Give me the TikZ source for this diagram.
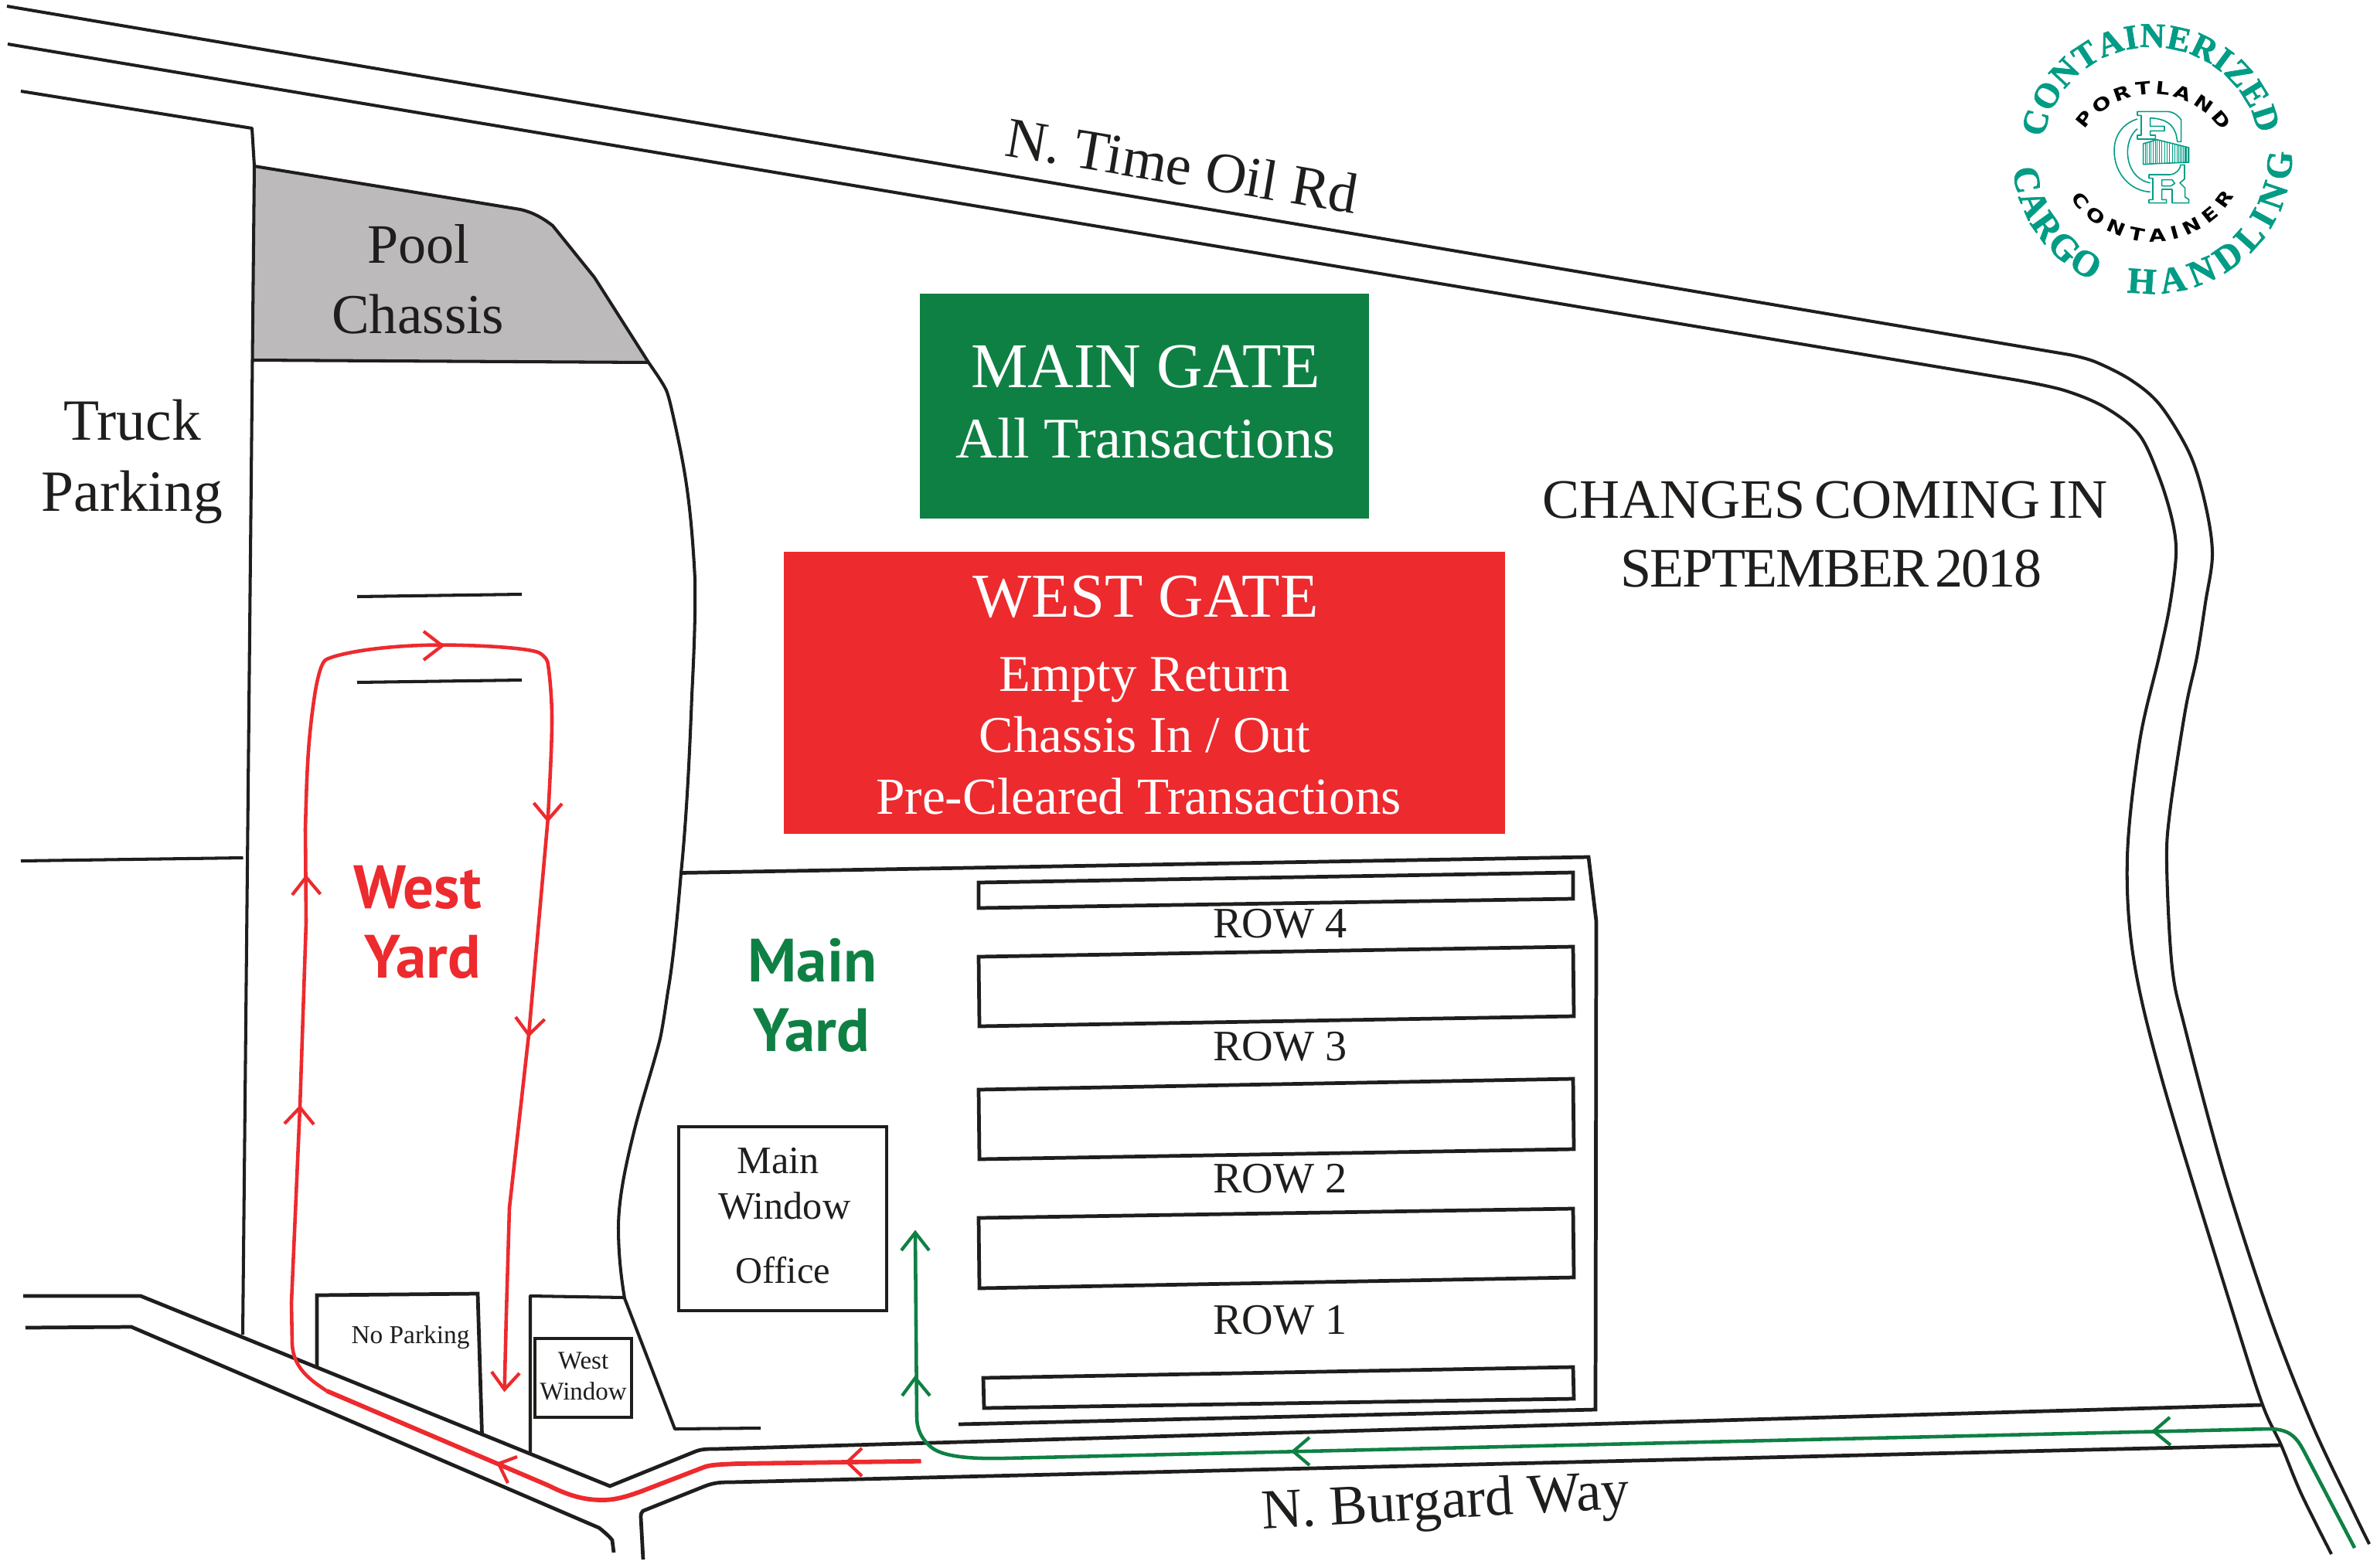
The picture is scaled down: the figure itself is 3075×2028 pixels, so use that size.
\documentclass[tikz,border=0pt]{standalone}
\usepackage{fontspec}
\usetikzlibrary{decorations.text}
\setmainfont{Liberation Serif}
\newfontfamily\yardfont{PT Sans}
\newfontfamily\logosans[FakeStretch=1.25]{DejaVu Sans}
\newfontfamily\logoserif[UprightFont={* Bold},FakeBold=1.4]{Liberation Serif}
\newcommand\fpx[1]{\fontsize{#1}{#1}\selectfont}
\definecolor{ink}{HTML}{1F1E1C}
\definecolor{redmap}{HTML}{ED2A2E}
\definecolor{greenmap}{HTML}{0F8044}
\definecolor{graymap}{HTML}{BCBABB}
\definecolor{teallogo}{HTML}{009C85}
\tikzset{
  roadline/.style={draw=ink,line width=2.3pt,line join=round},
  thickline/.style={draw=ink,line width=2.7pt,line join=miter},
  redthin/.style={draw=redmap,line width=2.6pt,line join=round},
  redthick/.style={draw=redmap,line width=3.3pt,line join=round},
  greenpath/.style={draw=greenmap,line width=2.6pt,line join=round},
  redhead/.style={draw=redmap,line width=2.4pt,line join=miter},
  greenhead/.style={draw=greenmap,line width=2.4pt,line join=miter},
  lbl/.style={anchor=base,inner sep=0pt,outer sep=0pt,text=ink},
  whitelbl/.style={anchor=base,inner sep=0pt,outer sep=0pt,text=white},
  tealline/.style={draw=teallogo,line width=0.9pt,line join=round},
}
\begin{document}
\begin{tikzpicture}[x=0.02cm,y=-0.02cm]
\useasboundingbox (0,0) rectangle (3075,2028);
\fill[white] (0,0) rectangle (3075,2028);
% pool chassis
\path[fill=graymap] (329,215) -- (673,271) .. controls (690,275) and (702,282) .. (715,292) -- (769,359) -- (839,469) -- (326,466) -- cycle;
% N. Time Oil Rd, outer and inner edge
\draw[roadline] (9,8) -- (2677,459) -- plot[smooth,tension=0.55] coordinates {(2677,459) (2710,468) (2757,492) (2795,525) (2833,588) (2853,653) (2862,717) (2853,780) (2842,850) (2827,919) (2807,1051) (2803,1120) (2810,1252) (2827,1332) (2877,1519) (2937,1705) (2991,1843) (3043,1953) (3065,1998)};
\draw[roadline] (10,57) -- (2610,492) -- plot[smooth,tension=0.55] coordinates {(2610,492) (2670,505) (2723,527) (2767,562) (2793,617) (2810,673) (2815,717) (2807,783) (2793,850) (2768,959) (2752,1108) (2760,1240) (2798,1401) (2889,1700) (2927,1818) (2951,1870) (2977,1933) (3016,2011)};
% truck parking and west yard boundary
\draw[roadline] (27,118) -- (326,166) -- (329,215) -- (314,1727);
\draw[roadline] (27,1114) -- (314.5,1110);
\draw[roadline] (329,215) -- (673,271) .. controls (690,275) and (702,282) .. (715,292) -- (769,359) -- (839,469) .. controls (850,485) and (857,495) .. (862,505) .. controls (866,515) and (870,535) .. (873,548) .. controls (880,580) and (885,605) .. (889,634) .. controls (894,670) and (897,710) .. (899,749) .. controls (900,800) and (897,860) .. (895,900) .. controls (892,980) and (888,1060) .. (881,1130) .. controls (876,1190) and (870,1250) .. (864,1283) .. controls (860,1310) and (857,1330) .. (854,1344) .. controls (845,1380) and (830,1425) .. (821,1461) .. controls (810,1505) and (800,1550) .. (800,1589) .. controls (800,1620) and (803,1650) .. (808,1680) -- (873,1849) -- (984,1848);
\draw[roadline] (326,466) -- (839,469);
\draw[roadline] (462,772) -- (675,769);
\draw[roadline] (462,883) -- (675,880);
% N. Burgard Way, upper and lower edges
\draw[thickline] (30,1677) -- (182,1677) -- (789,1923) -- (900,1878) .. controls (908,1875) and (915,1875) .. (925,1875) -- (2927,1818);
\draw[thickline] (33,1718) -- (170,1717) -- (775,1977) .. controls (785,1985) and (790,1990) .. (792,1993) -- (794,2009);
\draw[thickline] (832,2018) -- (829,1963) .. controls (829,1958) and (830,1957) .. (832,1955) -- (912,1923) .. controls (925,1918) and (935,1918) .. (945,1918) -- (2951,1870);
% no parking and west window enclosures
\draw[thickline] (410,1770) -- (410,1676) -- (618,1674) -- (623.5,1856);
\draw[roadline] (686,1879) -- (686,1677) -- (808,1679);
\draw[thickline] (692,1732) rectangle (817,1834);
\draw[thickline] (878,1458) rectangle (1147,1696);
% main yard boundary
\draw[thickline] (880,1129.5) -- (2055,1109) -- (2065,1192) -- (2064,1824) -- (1240,1843);
% rows
\draw[thickline] (1266,1142) -- (2035,1129) -- (2035,1163) -- (1266,1175) -- cycle;
\draw[thickline] (1266,1238) -- (2035,1225) -- (2036,1315) -- (1267,1328) -- cycle;
\draw[thickline] (1266,1410) -- (2035,1396) -- (2036,1487) -- (1267,1500) -- cycle;
\draw[thickline] (1266,1576) -- (2035,1564) -- (2036,1653) -- (1267,1667) -- cycle;
\draw[thickline] (1272,1783) -- (2035,1769) -- (2036,1810) -- (1273,1822) -- cycle;
% gate boxes
\fill[greenmap] (1190,380) rectangle (1771,671);
\fill[redmap] (1014,714) rectangle (1947,1079);
% green route
\draw[greenpath] (3046,2003) -- (2980,1877) .. controls (2970,1858) and (2960,1849) .. (2935,1849) -- (1300,1887) .. controls (1255,1888) and (1220,1885) .. (1205,1873) .. controls (1192,1862) and (1186,1850) .. (1186,1833) -- (1184,1595);
\draw[greenhead] (2807,1834) -- (2786,1852) -- (2808,1870);
\draw[greenhead] (1694,1860) -- (1673,1878) -- (1694,1896);
\draw[greenhead] (1166,1618) -- (1184,1595) -- (1202,1618);
\draw[greenhead] (1167,1806) -- (1184,1783) -- (1203,1806);
% red route
\draw[redthick] (1191.5,1890.7) -- (953,1894) .. controls (935,1895) and (922,1895) .. (912,1898) -- (829,1930) .. controls (812,1936) and (797,1941) .. (779,1941) .. controls (755,1941) and (735,1935) .. (709,1922) -- (423,1800);
\draw[redthin] (423,1800) .. controls (400,1785) and (380,1770) .. (378,1740) -- (377,1686) -- (388,1433) -- (396,1193) -- (395,1073) .. controls (397,1000) and (398,960) .. (407,900) .. controls (410,880) and (415,860) .. (420,855) .. controls (425,849) and (480,835) .. (570,834.5) .. controls (640,835) and (690,840) .. (698,845) .. controls (705,849) and (709,855) .. (709,860) .. controls (712,880) and (714,910) .. (714,930) .. controls (714,960) and (712,1000) .. (708.7,1061) -- (684,1339) -- (659,1563) -- (655,1700) -- (652.6,1798);
\draw[redhead] (548,817) -- (572,835.5) -- (548,854);
\draw[redhead] (690.5,1039) -- (708.7,1061) -- (727,1040);
\draw[redhead] (667,1316) -- (684,1339) -- (704.6,1319);
\draw[redhead] (636,1775) -- (652.6,1798) -- (672,1777);
\draw[redhead] (378,1158) -- (396,1135) -- (414.5,1157);
\draw[redhead] (368,1454) -- (388,1433) -- (406,1455);
\draw[redhead] (669,1885) -- (645,1894) -- (657,1919);
\draw[redhead] (1115,1874) -- (1096,1892) -- (1115,1910);
% labels
\node[lbl,anchor=base west,rotate=-9.5] (timeoil) at (1298,201) {\fpx{42}N. Time Oil Rd};
\node[lbl,anchor=base west,rotate=3.2] (burgard) at (1633,1978) {\fpx{41.5}N. Burgard Way};
\node[lbl] (pool) at (541.7,340) {\fpx{41}Pool};
\node[lbl] (chassis) at (540.7,431) {\fpx{41.5}Chassis};
\node[lbl] (truck) at (171,569) {\fpx{43}Truck};
\node[lbl] (parking) at (171,661) {\fpx{43}Parking};
\node[whitelbl] (maingate) at (1482,501) {\fpx{47}MAIN GATE};
\node[whitelbl] (alltrans) at (1482,592) {\fpx{42.3}All Transactions};
\node[whitelbl] (westgate) at (1482,798) {\fpx{46}WEST GATE};
\node[whitelbl] (empty) at (1481,894) {\fpx{38}Empty Return};
\node[whitelbl] (chin) at (1481,973) {\fpx{38}Chassis In / Out};
\node[whitelbl] (precl) at (1473,1053) {\fpx{38.3}Pre-Cleared Transactions};
\node[lbl] (changes) at (2361,670) {\fpx{41}CHANGES\hspace{-0.09em} COMING\hspace{-0.09em} IN};
\node[lbl] (sept) at (2369,759) {\fpx{41}\addfontfeature{LetterSpace=-3}SEPTEMBER\hspace{-0.1em} 2018};
\node[lbl,text=redmap] (westw) at (540,1175.5) {\fpx{45}\yardfont\bfseries West};
\node[lbl,text=redmap] (westy) at (547,1265) {\fpx{45}\yardfont\bfseries Yard};
\node[lbl,text=greenmap] (mainm) at (1051,1270) {\fpx{45}\yardfont\bfseries Main};
\node[lbl,text=greenmap] (mainy) at (1050,1360.6) {\fpx{45}\yardfont\bfseries Yard};
\node[lbl] (row4) at (1655.7,1213.7) {\fpx{32}ROW 4};
\node[lbl] (row3) at (1655.7,1372) {\fpx{32}ROW 3};
\node[lbl] (row2) at (1655.7,1543) {\fpx{32}ROW 2};
\node[lbl] (row1) at (1655.7,1726) {\fpx{32}ROW 1};
\node[lbl] (mwmain) at (1006.8,1518) {\fpx{28.6}Main};
\node[lbl] (mwwin) at (1014.8,1577) {\fpx{28.6}Window};
\node[lbl] (mwoff) at (1013,1660.6) {\fpx{27.6}Office};
\node[lbl] (nopark) at (531,1738) {\fpx{19}No Parking};
\node[lbl] (wwwest) at (754.6,1771) {\fpx{18.8}West};
\node[lbl] (wwwin) at (754.6,1811) {\fpx{18.8}Window};
% logo: circular lettering
\path[decorate,decoration={text along path,text align={fit to path},text color=teallogo,text={|\fpx{25.5}\logoserif|CONTAINERIZED}}]
  plot[domain=171:11,samples=60,variable=\t] ({2783+141*cos(\t)},{200-139*sin(\t)});
\path[decorate,decoration={text along path,text align={fit to path},text color=teallogo,text={|\fpx{27}\logoserif|CARGO}}]
  plot[domain=186:245,samples=30,variable=\t] ({2783+180*cos(\t)},{200-180*sin(\t)});
\path[decorate,decoration={text along path,text align={fit to path},text color=teallogo,text={|\fpx{27}\logoserif|HANDLING}}]
  plot[domain=260:361,samples=40,variable=\t] ({2783+182*cos(\t)},{200-180*sin(\t)});
\path[decorate,decoration={text along path,text align={fit to path},text color=black,text={|\fpx{13}\logosans\bfseries|PORTLAND}}]
  plot[domain=145:34,samples=40,variable=\t] ({2785+108*cos(\t)},{230-108*sin(\t)});
\path[decorate,decoration={text along path,text align={fit to path},text color=black,text={|\fpx{13}\logosans\bfseries|CONTAINER}}]
  plot[domain=213:328,samples=40,variable=\t] ({2784+125.5*cos(\t)},{187.5-125.5*sin(\t)});
% logo: monogram
\begin{scope}[shift={(2720,130)},x=0.00667cm,y=-0.00667cm]
  \draw[tealline] (135,72) .. controls (75,90) and (45,140) .. (45,195) .. controls (45,285) and (110,352) .. (185,355);
  \draw[tealline] (135,110) .. controls (110,130) and (97,165) .. (97,200) .. controls (97,265) and (135,312) .. (185,320);
  \draw[tealline,fill=white] (135,43) -- (250,43) .. controls (275,43) and (295,60) .. (305,75) -- (305,160) -- (290,160) .. controls (285,110) and (265,72) .. (185,68) -- (185,100) -- (240,100) -- (240,118) -- (185,118) -- (185,135) -- (205,135) -- (205,150) -- (135,150) -- (135,135) -- (150,135) -- (150,58) -- (135,58) -- cycle;
  \draw[tealline,fill=white] (180,288) -- (262,288) .. controls (285,285) and (300,270) .. (303,250) -- (318,250) -- (318,305) -- (300,320) -- (320,340) -- (320,375) -- (335,385) -- (335,398) -- (270,398) -- (270,345) -- (230,345) -- (230,385) -- (248,385) -- (248,398) -- (180,398) -- (180,385) -- (195,385) -- (195,302) -- (180,302) -- cycle;
  \draw[tealline,fill=white] (230,308) -- (270,308) -- (280,322) -- (265,332) -- (230,332) -- cycle;
  \draw[tealline,fill=white] (158,168) -- (210,152) -- (335,183) -- (335,240) -- (210,245) -- (158,248) -- cycle;
  \foreach \lx in {165,172,180,188,196,204,210,220,230,240,250,260,270,280,288,296,302,308,313,318,322,326,330}
    \draw[teallogo,line width=0.6pt] (\lx,{168-(\lx-158)*16/52*(\lx<210)-(\lx>=210)*(16-(\lx-210)*31/125)}) -- (\lx,{248-(\lx-158)*3/52*(\lx<210)-(\lx>=210)*(3+(\lx-210)*5/125)});
\end{scope}
\end{tikzpicture}
\end{document}
